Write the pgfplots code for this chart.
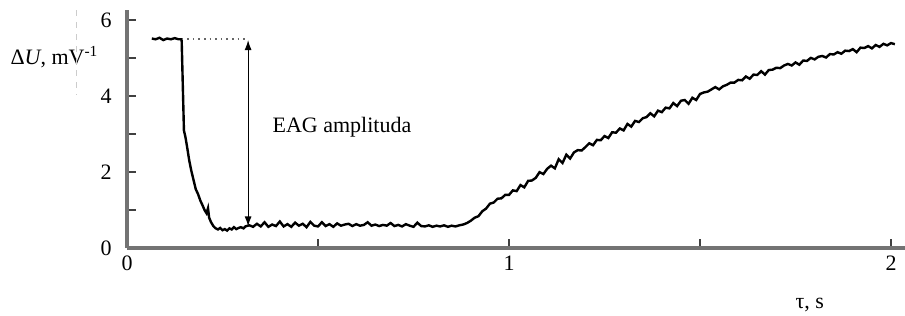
\documentclass[border=0pt]{standalone}
\usepackage{fontspec}
\setmainfont{Liberation Serif}
\usepackage{pgfplots}
\pgfplotsset{compat=1.18}
\usetikzlibrary{arrows.meta}
\pgfplotstableread{
x y
0.065 5.52
0.075 5.50
0.085 5.54
0.095 5.48
0.105 5.52
0.115 5.50
0.125 5.53
0.135 5.50
0.143 5.50
0.146 4.30
0.149 3.10
0.153 2.92
0.158 2.62
0.163 2.30
0.168 2.05
0.174 1.80
0.180 1.55
0.186 1.42
0.192 1.25
0.198 1.12
0.203 1.00
0.208 0.92
0.212 1.05
0.215 0.80
0.220 0.68
0.226 0.58
0.232 0.52
0.238 0.49
0.244 0.53
0.250 0.47
0.256 0.50
0.262 0.46
0.268 0.52
0.274 0.49
0.280 0.55
0.286 0.50
0.292 0.53
0.298 0.55
0.305 0.52
0.310 0.57
0.32 0.60
0.33 0.56
0.34 0.64
0.35 0.57
0.36 0.68
0.37 0.56
0.38 0.62
0.39 0.58
0.40 0.70
0.41 0.57
0.42 0.63
0.43 0.56
0.44 0.67
0.45 0.59
0.46 0.64
0.47 0.55
0.48 0.69
0.49 0.59
0.50 0.57
0.51 0.68
0.52 0.58
0.53 0.63
0.54 0.56
0.55 0.65
0.56 0.59
0.57 0.62
0.58 0.64
0.59 0.58
0.60 0.63
0.61 0.59
0.62 0.61
0.63 0.68
0.64 0.59
0.65 0.62
0.66 0.58
0.67 0.61
0.68 0.59
0.69 0.66
0.70 0.58
0.71 0.61
0.72 0.57
0.73 0.63
0.74 0.59
0.75 0.56
0.76 0.67
0.77 0.58
0.78 0.57
0.79 0.60
0.80 0.56
0.81 0.59
0.82 0.57
0.83 0.60
0.84 0.56
0.85 0.59
0.86 0.57
0.87 0.60
0.88 0.62
0.89 0.66
0.90 0.72
0.91 0.80
0.92 0.84
0.93 0.97
0.94 1.04
0.95 1.17
0.96 1.20
0.97 1.30
0.98 1.31
0.99 1.40
1.00 1.40
1.01 1.52
1.02 1.50
1.03 1.66
1.04 1.60
1.05 1.77
1.06 1.78
1.07 1.85
1.08 2.00
1.09 1.95
1.10 2.09
1.11 2.17
1.12 2.10
1.13 2.34
1.14 2.24
1.15 2.46
1.16 2.36
1.17 2.52
1.18 2.58
1.19 2.57
1.20 2.66
1.21 2.76
1.22 2.71
1.23 2.85
1.24 2.84
1.25 2.95
1.26 2.90
1.27 3.05
1.28 3.04
1.29 3.15
1.30 3.10
1.31 3.27
1.32 3.20
1.33 3.35
1.34 3.32
1.35 3.42
1.36 3.45
1.37 3.55
1.38 3.47
1.39 3.62
1.40 3.58
1.41 3.70
1.42 3.68
1.43 3.82
1.44 3.74
1.45 3.88
1.46 3.90
1.47 3.80
1.48 3.96
1.49 3.90
1.50 4.06
1.51 4.10
1.52 4.12
1.53 4.18
1.54 4.24
1.55 4.18
1.56 4.26
1.57 4.30
1.58 4.36
1.59 4.36
1.60 4.43
1.61 4.42
1.62 4.52
1.63 4.46
1.64 4.57
1.65 4.56
1.66 4.66
1.67 4.57
1.68 4.69
1.69 4.70
1.70 4.75
1.71 4.74
1.72 4.81
1.73 4.85
1.74 4.81
1.75 4.89
1.76 4.83
1.77 4.94
1.78 4.93
1.79 5.01
1.80 4.97
1.81 5.04
1.82 5.06
1.83 5.02
1.84 5.11
1.85 5.10
1.86 5.16
1.87 5.12
1.88 5.20
1.89 5.19
1.90 5.24
1.91 5.16
1.92 5.28
1.93 5.27
1.94 5.32
1.95 5.26
1.96 5.35
1.97 5.30
1.98 5.38
1.99 5.34
2.00 5.40
2.01 5.37
}\curve
\begin{document}
\fontsize{11}{13}\selectfont
\begin{tikzpicture}
\begin{axis}[
  scale only axis, width=389.6pt, height=119pt,
  xmin=0, xmax=2.04, ymin=0, ymax=6.27,
  axis x line*=bottom, axis y line*=left,
  axis line style={line width=2pt, color=black!55},
  xtick={0,1,2}, minor xtick={0.5,1.5},
  ytick={0,2,4,6}, minor ytick={1,3,5},
  tick align=inside,
  major tick length=4.5pt, minor tick length=4.5pt,
  every tick/.style={line width=0.8pt, black!75},
  /pgf/number format/assume math mode=true,
  ticklabel style={font=\fontsize{11}{13}\selectfont},
  yticklabel style={xshift=-3.8pt},
  clip=false,
]
\addplot[black, line width=1.2pt, mark=none] table[x=x,y=y] {\curve};
\draw[black!60, dotted, line width=0.8pt] (axis cs:0.143,5.5) -- (axis cs:0.317,5.5);
\draw[black, line width=0.6pt, {Latex[length=5pt,width=3.5pt]}-{Latex[length=5pt,width=3.5pt]}] (axis cs:0.317,5.48) -- (axis cs:0.317,0.57);
\node[anchor=base west, inner sep=0pt] at (axis cs:0.380,3.04) {EAG amplituda};
\node[anchor=base west, inner sep=0pt] at (axis cs:-0.306,4.83) {Δ\textit{U}, mV\textsuperscript{-1}};
\node[anchor=base west, inner sep=0pt] at (axis cs:1.749,-1.60) {τ, s};
\draw[black!20, dashed, line width=0.4pt] (axis cs:-0.1335,6.27) -- (axis cs:-0.1335,4.04);
\coordinate (bl) at (axis cs:-0.3325,-1.785);
\coordinate (tr) at (axis cs:2.0366,6.535);
\end{axis}
\pgfresetboundingbox
\path[use as bounding box] (bl) rectangle (tr);
\end{tikzpicture}
\end{document}
